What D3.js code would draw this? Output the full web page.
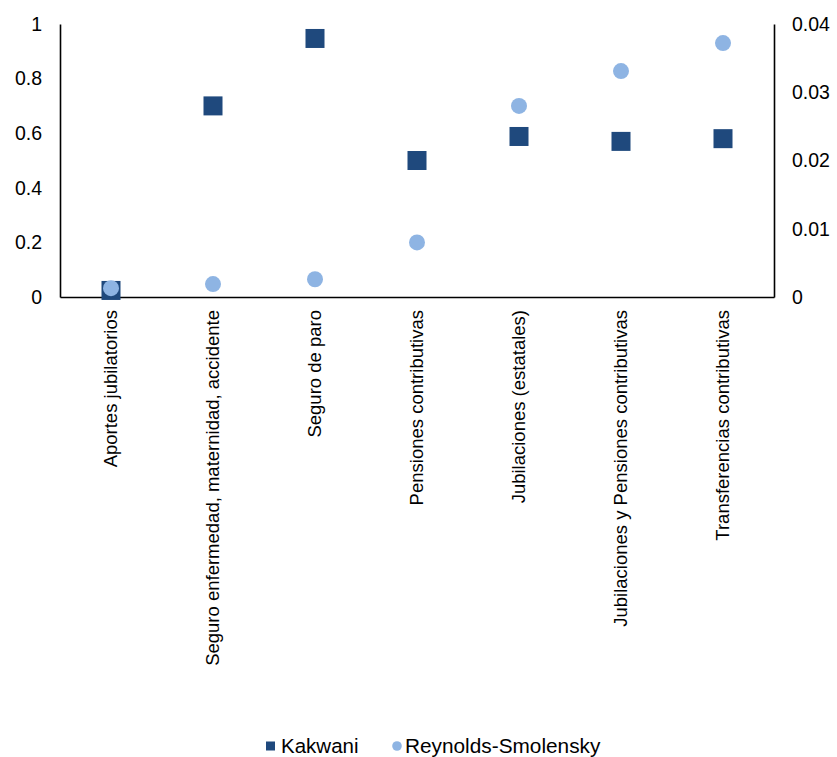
<!DOCTYPE html>
<html>
<head>
<meta charset="utf-8">
<script src="https://cdn.jsdelivr.net/npm/d3@7"></script>
<style>
  html, body { margin: 0; padding: 0; background: #fff; }
  svg text { font-family: "Liberation Sans", Arial, sans-serif; fill: #000; }
</style>
</head>
<body>
<svg id="chart" width="837" height="757"></svg>
<script>
// Progressivity indices by contribution / transfer type
const categories = [
  "Aportes jubilatorios",
  "Seguro enfermedad, maternidad, accidente",
  "Seguro de paro",
  "Pensiones contributivas",
  "Jubilaciones (estatales)",
  "Jubilaciones y Pensiones contributivas",
  "Transferencias contributivas"
];
const kakwani = [0.024, 0.70, 0.947, 0.50, 0.588, 0.57, 0.58];
const reynoldsSmolensky = [0.0013, 0.0019, 0.0026, 0.0080, 0.0280, 0.0331, 0.0372];
const leftTicks = [0, 0.2, 0.4, 0.6, 0.8, 1];
const rightTicks = [0, 0.01, 0.02, 0.03, 0.04];
const seriesNames = ["Kakwani", "Reynolds-Smolensky"];

const colKakwani = "#1f497d";
const colRS = "#8eb4e3";

const svg = d3.select("#chart");
const margin = { left: 60, right: 63, top: 24 };
const plotBottom = 297;
const width = 837 - margin.left - margin.right;

const x = d3.scaleBand().domain(categories).range([margin.left, margin.left + width]);
const yL = d3.scaleLinear().domain([0, 1]).range([plotBottom, margin.top]);
const yR = d3.scaleLinear().domain([0, 0.04]).range([plotBottom, margin.top]);

// Left axis
const leftAxis = svg.append("g")
  .attr("transform", `translate(${margin.left},0)`)
  .call(d3.axisLeft(yL).tickValues(leftTicks).tickSize(0).tickPadding(18).tickFormat(d => d3.format("")(d)));
leftAxis.select(".domain").attr("stroke", "#000").attr("stroke-width", 1.6);
leftAxis.selectAll("text").style("font-size", "19.5px");

// Right axis
const rightAxis = svg.append("g")
  .attr("transform", `translate(${margin.left + width},0)`)
  .call(d3.axisRight(yR).tickValues(rightTicks).tickSize(0).tickPadding(18).tickFormat(d => d3.format("")(d)));
rightAxis.select(".domain").attr("stroke", "#000").attr("stroke-width", 1.6);
rightAxis.selectAll("text").style("font-size", "19.5px");

// Category axis
const bottomAxis = svg.append("g")
  .attr("transform", `translate(0,${plotBottom})`)
  .call(d3.axisBottom(x).tickSize(0).tickPadding(0));
bottomAxis.select(".domain").attr("stroke", "#000").attr("stroke-width", 1.6);
bottomAxis.selectAll("text")
  .style("font-size", "18.5px")
  .attr("text-anchor", "end")
  .attr("transform", "rotate(-90)")
  .attr("x", -13)
  .attr("y", 0)
  .attr("dy", "0.35em");

// Kakwani squares
const sq = 19;
svg.append("g").selectAll("rect")
  .data(kakwani)
  .join("rect")
  .attr("x", (d, i) => x(categories[i]) + x.bandwidth() / 2 - sq / 2)
  .attr("y", d => yL(d) - sq / 2)
  .attr("width", sq)
  .attr("height", sq)
  .attr("fill", colKakwani);

// Reynolds-Smolensky circles
svg.append("g").selectAll("circle")
  .data(reynoldsSmolensky)
  .join("circle")
  .attr("cx", (d, i) => x(categories[i]) + x.bandwidth() / 2)
  .attr("cy", d => yR(d))
  .attr("r", 8)
  .attr("fill", colRS);

// Legend
const legend = svg.append("g").attr("transform", "translate(0,746)");
legend.append("rect").attr("x", 266).attr("y", -4.5).attr("width", 9).attr("height", 9).attr("fill", colKakwani);
legend.append("text").attr("x", 281).attr("y", 0).attr("dy", "0.35em").style("font-size", "20.5px").text(seriesNames[0]);
legend.append("circle").attr("cx", 397).attr("cy", 0).attr("r", 4.8).attr("fill", colRS);
legend.append("text").attr("x", 405).attr("y", 0).attr("dy", "0.35em").style("font-size", "20.8px").text(seriesNames[1]);
</script>
</body>
</html>
